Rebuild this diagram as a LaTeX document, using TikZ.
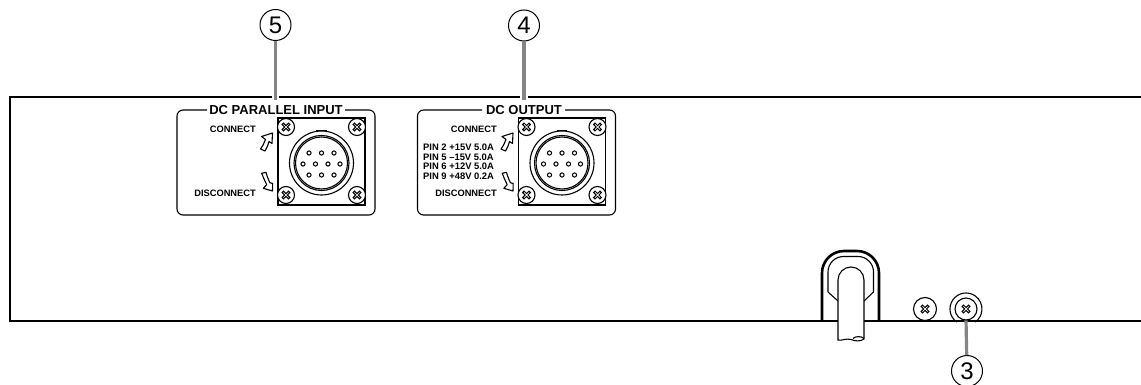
\documentclass[tikz,border=0pt]{standalone}
\usepackage{fontspec}
\setmainfont{Liberation Sans}
\newcommand{\screwhead}[3][8.5]{%
  \node[screw, minimum size=#1*2pt] (#2) at #3 {};
  \draw[line width=3pt] ([shift={(-3.6,-3.6)}]#2.center) -- ([shift={(3.6,3.6)}]#2.center);
  \draw[line width=3pt] ([shift={(-3.6,3.6)}]#2.center) -- ([shift={(3.6,-3.6)}]#2.center);
  \draw[white,line width=.7pt] ([shift={(-2.6,-2.6)}]#2.center) -- ([shift={(2.6,2.6)}]#2.center);
  \draw[white,line width=.7pt] ([shift={(-2.6,2.6)}]#2.center) -- ([shift={(2.6,-2.6)}]#2.center);
}
\newcommand{\connectorunit}{%
  \draw[thin line] (278,118) rectangle (365,205);
  \draw[thin line] (317,131) rectangle (326,134.5);
  \foreach \bx/\by in {293/168,350/164,308/186,335/186}
    \draw[thin line,fill=white] (\bx,\by) circle (1.8);
  \draw[thin line,fill=white] (321.5,163) circle (32);
  \draw[thin line] (321.5,163) circle (27.5);
  \draw[thin line] (321.5,163) circle (26);
  \foreach \px/\py in {309/153,321.5/153,334/153,303/164,315.5/164,328/164,340/164,309/175,321.5/175,334/175}
    \draw[pin] (\px,\py) circle (2.1);
  \screwhead{s1}{(286,127)}
  \screwhead{s2}{(357,127)}
  \screwhead{s3}{(286,195)}
  \screwhead{s4}{(357,195)}
  \draw[thin line,fill=white,line join=round] (272.5,133) -- (261.5,136.5) -- (265.5,139.5)
     .. controls (263.5,144) and (262.5,147) .. (260.5,149) -- (265,151)
     .. controls (267,147) and (268.5,145) .. (269,141.5) -- (272,143.5) -- cycle;
  \draw[thin line,fill=white,line join=round] (272.5,191) -- (263.3,188.3) -- (266.7,184.7)
     .. controls (264.5,180) and (263,177) .. (261.7,173.3) -- (266,172.3)
     .. controls (267,176) and (268.5,180) .. (270,182.8) -- (272.7,183.5) -- cycle;
}
\tikzset{
  x=1pt,y=-1pt,
  body/.style={line width=2.6pt},
  thin line/.style={line width=1.1pt},
  pin/.style={line width=1pt},
  leader/.style={line width=3.2pt,draw=black!48},
  screw/.style={circle,draw,line width=1.1pt,fill=white,inner sep=0pt},
  callout/.style={circle,draw,line width=1pt,fill=white,minimum size=31pt,inner sep=0pt,font=\fontsize{24}{24}\selectfont},
  title/.style={font=\fontsize{13}{13}\selectfont\bfseries,inner sep=0pt,anchor=base},
  lab/.style={font=\fontsize{9.3}{9}\selectfont\bfseries,inner sep=0pt,anchor=base east},
  pinlab/.style={font=\fontsize{9.4}{9}\selectfont\bfseries,inner sep=0pt,anchor=base west},
}
\begin{document}
\begin{tikzpicture}
\useasboundingbox (0,0) rectangle (1141,385);
% housing
\draw[body] (272,97) -- (10,97) -- (10,321) -- (1141,321);
\draw[body] (279,97) -- (520,97);
\draw[body] (528,97) -- (1141,97);
% callouts and leaders
\node[callout] (n5) at (275.5,25) {5};
\node[callout] (n4) at (524,25.5) {4};
\node[callout] (n3) at (967,371) {3};
\coordinate (l5) at (275.5,100);
\coordinate (l4) at (524,100);
\draw[leader] (n5) -- (l5);
\draw[leader] (n4) -- (l4);
% left panel
\draw[thin line,rounded corners=6pt] (207,110) -| (177,215) -| (375,110) -- (345,110);
\node[title] (t1) at (276,115) {DC PARALLEL INPUT};
\node[lab] (c1) at (256,132.5) {CONNECT};
\node[lab] (d1) at (256,196.5) {DISCONNECT};
\connectorunit
% right panel
\draw[thin line,rounded corners=6pt] (482,110) -| (417.5,215) -| (615.5,110) -- (565,110);
\node[title] (t2) at (524,115) {DC OUTPUT};
\node[lab] (c2) at (497,132.5) {CONNECT};
\node[lab] (d2) at (497,196.5) {DISCONNECT};
\node[pinlab] (p2) at (423,151) {PIN 2 +15V 5.0A};
\node[pinlab] (p5) at (423,160.2) {PIN 5 –15V 5.0A};
\node[pinlab] (p6) at (423,169.5) {PIN 6 +12V 5.0A};
\node[pinlab] (p9) at (423,179) {PIN 9 +48V 0.2A};
\begin{scope}[shift={(240.5,0)}]
\begin{scope}[name prefix=r-]
\connectorunit
\end{scope}
\end{scope}
% cable clip
\draw[body,line join=round,fill=white] (822,321) -- (822,273) arc[start angle=180,end angle=270,radius=22] -- (857,251) arc[start angle=270,end angle=360,radius=22] -- (879,321);
\draw[body] (810,321) -- (890,321);
\draw[thin line] (828,292) -- (828,272) arc[start angle=180,end angle=270,radius=15.5] -- (858,256.5) arc[start angle=270,end angle=360,radius=15.5] -- (873.5,292) -- (864,301);
\draw[thin line] (828,292) -- (838,301);
\draw[line width=1.1pt,fill=white] (838,340) -- (838,280) arc[start angle=180,end angle=360,radius=13] -- (864,339)
  .. controls (860,342) and (855,341) .. (851,339.5) .. controls (846,338) and (842,341) .. (838,340) -- cycle;
\draw[thin line] (853,338.5) .. controls (855,336) and (862,336) .. (864,338.5);
% screws
\screwhead[11.5]{s5}{(925,309)}
\draw[thin line] (956.8,322.1) arc[start angle=125,end angle=415,radius=16];
\coordinate (l3) at (966,319);
\draw[leader] (n3) -- (l3);
\screwhead[11]{s7}{(966,309)}
\end{tikzpicture}
\end{document}
